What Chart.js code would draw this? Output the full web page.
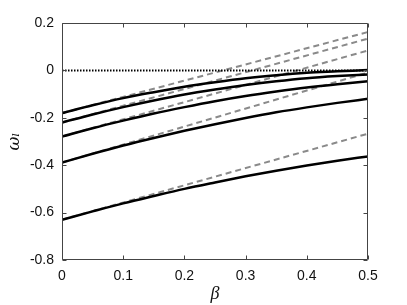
<!DOCTYPE html>
<html>
<head>
<meta charset="utf-8">
<script src="https://cdn.jsdelivr.net/npm/chart.js@4.4.1/dist/chart.umd.min.js"></script>
<style>
  html, body { margin: 0; padding: 0; background: #fff; }
  #wrap { width: 407px; height: 305px; }
</style>
</head>
<body>
<div id="wrap"><canvas id="chart" width="407" height="305"></canvas></div>
<script>
// beta grid for the exact curves
const beta = [0, 0.05, 0.1, 0.15, 0.2, 0.25, 0.3, 0.35, 0.4, 0.45, 0.5];
const omega1 = [-0.180, -0.147, -0.117, -0.092, -0.069, -0.050, -0.033, -0.020, -0.010, -0.004, 0.002];
const omega2 = [-0.220, -0.186, -0.155, -0.127, -0.102, -0.081, -0.062, -0.046, -0.033, -0.024, -0.017];
const omega3 = [-0.279, -0.244, -0.212, -0.182, -0.155, -0.130, -0.108, -0.089, -0.072, -0.058, -0.046];
const omega4 = [-0.389, -0.352, -0.317, -0.285, -0.255, -0.227, -0.201, -0.177, -0.156, -0.137, -0.120];
const omega5 = [-0.630, -0.595, -0.561, -0.530, -0.500, -0.473, -0.447, -0.423, -0.401, -0.381, -0.363];

// linear (small beta) approximations, end points only
const betaLin = [0, 0.5];
const approx1 = [-0.180, 0.162];
const approx2 = [-0.220, 0.134];
const approx3 = [-0.279, 0.084];
const approx4 = [-0.389, -0.009];
const approx5 = [-0.630, -0.267];

const zeroLine = [0, 0];

const xTicks = [0, 0.1, 0.2, 0.3, 0.4, 0.5];
const yTicks = [-0.8, -0.6, -0.4, -0.2, 0, 0.2];

function pts(xs, ys) {
  return xs.map((x, i) => ({ x: x, y: ys[i] }));
}

function solid(ys) {
  return {
    data: pts(beta, ys),
    borderColor: '#000',
    borderWidth: 2.5,
    pointRadius: 0,
    cubicInterpolationMode: 'monotone',
    order: 1
  };
}

function dashed(ys) {
  return {
    data: pts(betaLin, ys),
    borderColor: '#8a8a8a',
    borderWidth: 2,
    borderDash: [6, 4],
    pointRadius: 0,
    order: 3
  };
}

// MATLAB style box with inward ticks
const boxTicks = {
  id: 'boxTicks',
  afterDatasetsDraw(chart) {
    const { ctx, chartArea: a, scales } = chart;
    const x = scales.x, y = scales.y;
    const L = Math.round(a.left) + 0.5, R = Math.round(a.right) - 0.5;
    const T = Math.round(a.top) + 0.5, B = Math.round(a.bottom) - 0.5;
    ctx.save();
    ctx.strokeStyle = '#444';
    ctx.lineWidth = 1;
    ctx.beginPath();
    ctx.rect(L, T, R - L, B - T);
    xTicks.forEach(function (v) {
      const px = Math.round(x.getPixelForValue(v)) + 0.5;
      ctx.moveTo(px, B); ctx.lineTo(px, B - 4);
      ctx.moveTo(px, T); ctx.lineTo(px, T + 4);
    });
    yTicks.forEach(function (v) {
      const py = Math.round(y.getPixelForValue(v)) + 0.5;
      ctx.moveTo(L, py); ctx.lineTo(L + 4, py);
      ctx.moveTo(R, py); ctx.lineTo(R - 4, py);
    });
    ctx.stroke();
    ctx.restore();
  }
};

const tickFont = { family: 'Liberation Sans, Arial, sans-serif', size: 14 };

new Chart(document.getElementById('chart').getContext('2d'), {
  type: 'line',
  data: {
    datasets: [
      solid(omega1), solid(omega2), solid(omega3), solid(omega4), solid(omega5),
      {
        data: pts(betaLin, zeroLine),
        borderColor: '#000',
        borderWidth: 2,
        borderDash: [1.5, 1.5],
        pointRadius: 0,
        order: 2
      },
      dashed(approx1), dashed(approx2), dashed(approx3), dashed(approx4), dashed(approx5)
    ]
  },
  options: {
    responsive: false,
    animation: false,
    events: [],
    layout: { padding: { top: 23, right: 39, left: 0, bottom: 0 } },
    plugins: {
      legend: { display: false },
      tooltip: { enabled: false }
    },
    scales: {
      x: {
        type: 'linear',
        min: 0,
        max: 0.5,
        afterBuildTicks: function (s) { s.ticks = xTicks.map(v => ({ value: v })); },
        afterFit: function (s) { s.height = 45; },
        grid: { display: false, drawTicks: false },
        border: { display: false },
        ticks: { color: '#111', font: tickFont, padding: 8 },
        title: {
          display: true,
          text: 'β',
          color: '#111',
          font: { family: 'Liberation Serif, serif', size: 18, style: 'italic' },
          padding: { top: 0, bottom: 0 }
        }
      },
      y: {
        type: 'linear',
        min: -0.8,
        max: 0.2,
        afterBuildTicks: function (s) { s.ticks = yTicks.map(v => ({ value: v })); },
        afterFit: function (s) { s.width = 62; },
        grid: { display: false, drawTicks: false },
        border: { display: false },
        ticks: { color: '#111', font: tickFont, padding: 8 },
        title: {
          display: true,
          text: 'ωₗ',
          color: '#111',
          font: { family: 'DejaVu Serif, serif', size: 17, style: 'italic' },
          padding: { top: 4, bottom: 0 }
        }
      }
    }
  },
  plugins: [boxTicks]
});
</script>
</body>
</html>
